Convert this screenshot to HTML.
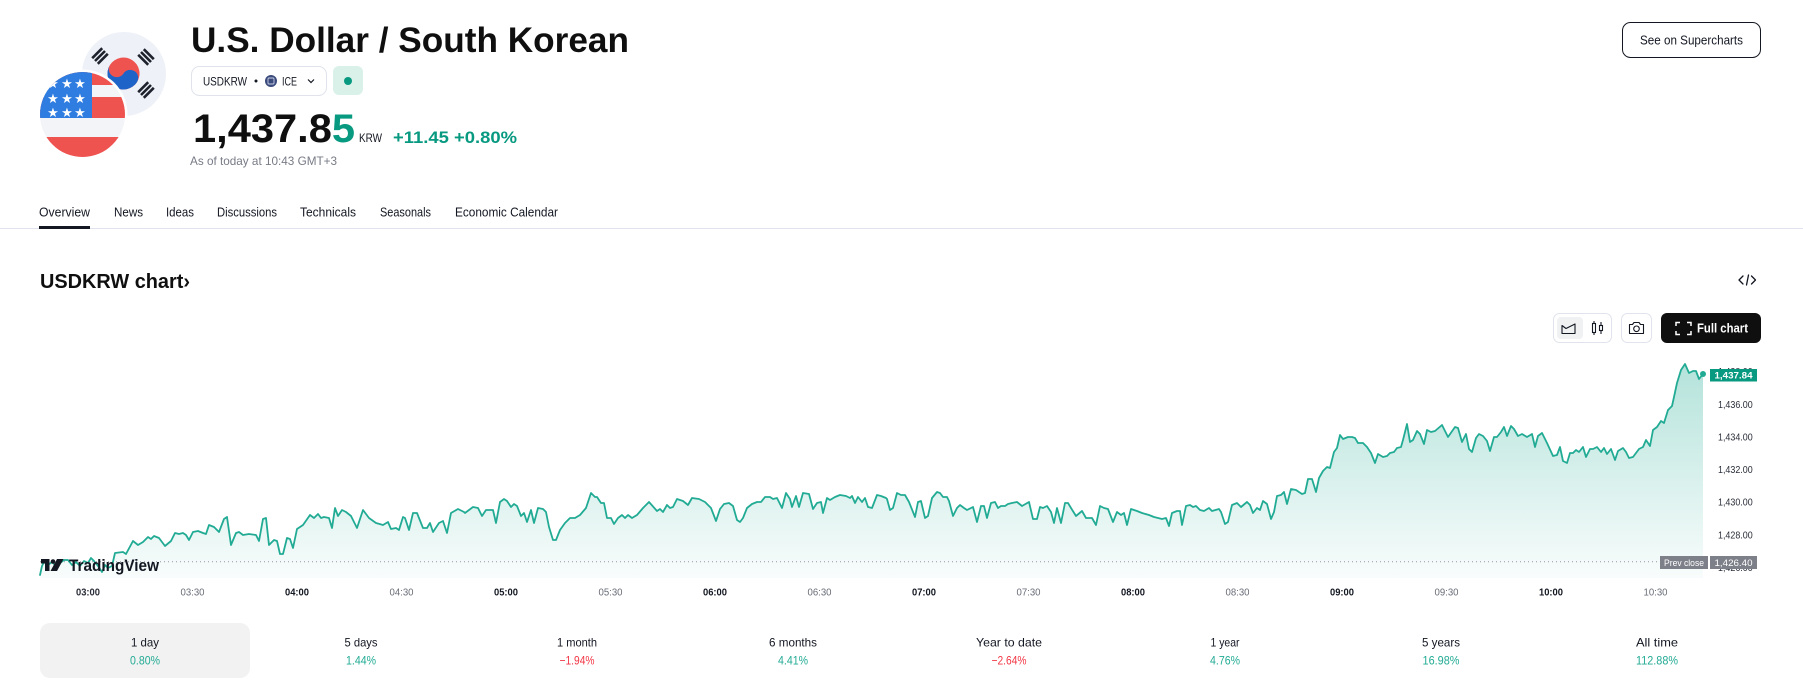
<!DOCTYPE html>
<html>
<head>
<meta charset="utf-8">
<style>
  html,body{margin:0;padding:0;background:#fff;}
  body{width:1803px;height:699px;overflow:hidden;}
  svg{display:block;}
  text{font-family:"Liberation Sans", Arial, sans-serif;}
</style>
</head>
<body>
<svg width="1803" height="699" viewBox="0 0 1803 699" xmlns="http://www.w3.org/2000/svg">
  <defs>
    <clipPath id="usclip"><circle cx="82.5" cy="114.5" r="42.5"/></clipPath>
    <clipPath id="krclip"><circle cx="124" cy="74" r="42"/></clipPath>
    <linearGradient id="areaGrad" gradientUnits="userSpaceOnUse" x1="0" y1="364" x2="0" y2="578">
      <stop offset="0" stop-color="#22ab94" stop-opacity="0.34"/>
      <stop offset="1" stop-color="#22ab94" stop-opacity="0.03"/>
    </linearGradient>
  </defs>
  <rect x="0" y="0" width="1803" height="699" fill="#ffffff"/>

  <!-- ===== Flags ===== -->
  <circle cx="124" cy="74" r="42" fill="#eef1f7"/>
  <g clip-path="url(#krclip)">
    <g transform="translate(123.5,73.5) rotate(33)">
      <circle cx="0" cy="0" r="16" fill="#ef5350"/>
      <path d="M-16 0 A16 16 0 0 0 16 0 A8 8 0 0 0 0 0 A8 8 0 0 1 -16 0Z" fill="#1e64c8"/>
    </g>
    <g stroke="#1e222d" stroke-width="2.6" stroke-linecap="butt">
      <line x1="107.8" y1="53.8" x2="97.8" y2="63.8"/>
      <line x1="105" y1="51" x2="95" y2="61"/>
      <line x1="102.2" y1="48.2" x2="92.2" y2="58.2"/>
      <line x1="138.2" y1="54.8" x2="148.2" y2="64.8"/>
      <line x1="141" y1="52" x2="151" y2="62"/>
      <line x1="143.8" y1="49.2" x2="153.8" y2="59.2"/>
      <line x1="148.2" y1="82.2" x2="138.2" y2="92.2"/>
      <line x1="151" y1="85" x2="141" y2="95"/>
      <line x1="153.8" y1="87.8" x2="143.8" y2="97.8"/>
    </g>
  </g>
  <circle cx="82.5" cy="114.5" r="45" fill="#ffffff"/>
  <g clip-path="url(#usclip)">
    <rect x="38" y="70" width="90" height="90" fill="#f2f4f8"/>
    <rect x="38" y="70" width="90" height="15" fill="#ef5350"/>
    <rect x="38" y="97" width="90" height="21" fill="#ef5350"/>
    <rect x="38" y="137" width="90" height="23" fill="#ef5350"/>
    <rect x="38" y="70" width="54" height="48" fill="#2f7de1"/>
    <g fill="#ffffff" font-size="13" text-anchor="middle">
      <text x="53" y="88">★</text><text x="67" y="88">★</text><text x="80" y="88">★</text>
      <text x="53" y="103">★</text><text x="67" y="103">★</text><text x="80" y="103">★</text>
      <text x="53" y="117">★</text><text x="67" y="117">★</text><text x="80" y="117">★</text>
    </g>
  </g>

  <!-- ===== Header ===== -->
  <text x="191" y="52" font-size="35" font-weight="700" fill="#0f0f0f" textLength="438" lengthAdjust="spacingAndGlyphs">U.S. Dollar / South Korean</text>

  <rect x="191.5" y="66.5" width="135" height="29" rx="8" fill="#fff" stroke="#e0e3eb"/>
  <text x="203" y="85.3" font-size="12" fill="#131722" textLength="44" lengthAdjust="spacingAndGlyphs">USDKRW</text>
  <circle cx="256" cy="81" r="1.5" fill="#131722"/>
  <circle cx="271" cy="81" r="6" fill="#3a4a7a"/>
  <rect x="268" y="78" width="6" height="6" rx="1" fill="none" stroke="#c8d0e8" stroke-width="0.9"/>
  <text x="282" y="85.3" font-size="12" fill="#131722" textLength="15" lengthAdjust="spacingAndGlyphs">ICE</text>
  <polyline points="308,79.5 311,82.5 314,79.5" fill="none" stroke="#131722" stroke-width="1.2"/>

  <rect x="333" y="66" width="30" height="29" rx="6" fill="#daf1ea"/>
  <circle cx="348" cy="81" r="4" fill="#089981"/>

  <text x="193" y="142" font-size="40" font-weight="700" fill="#0f0f0f" textLength="162" lengthAdjust="spacingAndGlyphs">1,437.8<tspan fill="#089981">5</tspan></text>
  <text x="359" y="142" font-size="12" fill="#131722" textLength="23" lengthAdjust="spacingAndGlyphs">KRW</text>
  <text x="393" y="143" font-size="17" font-weight="700" fill="#089981" textLength="124" lengthAdjust="spacingAndGlyphs">+11.45 +0.80%</text>
  <text x="190" y="165" font-size="12" fill="#787b86" textLength="147" lengthAdjust="spacingAndGlyphs">As of today at 10:43 GMT+3</text>

  <!-- See on Supercharts -->
  <rect x="1622.5" y="22.5" width="138" height="35" rx="8" fill="#fff" stroke="#131722"/>
  <text x="1691.5" y="44.5" font-size="12.5" fill="#131722" text-anchor="middle" textLength="103" lengthAdjust="spacingAndGlyphs">See on Supercharts</text>

  <!-- ===== Tabs ===== -->
  <g font-size="12.5" fill="#131722">
    <text x="39" y="216.5" textLength="51" lengthAdjust="spacingAndGlyphs">Overview</text>
    <text x="114" y="216.5" textLength="29" lengthAdjust="spacingAndGlyphs">News</text>
    <text x="166" y="216.5" textLength="28" lengthAdjust="spacingAndGlyphs">Ideas</text>
    <text x="217" y="216.5" textLength="60" lengthAdjust="spacingAndGlyphs">Discussions</text>
    <text x="300" y="216.5" textLength="56" lengthAdjust="spacingAndGlyphs">Technicals</text>
    <text x="380" y="216.5" textLength="51" lengthAdjust="spacingAndGlyphs">Seasonals</text>
    <text x="455" y="216.5" textLength="103" lengthAdjust="spacingAndGlyphs">Economic Calendar</text>
  </g>
  <rect x="0" y="228" width="1803" height="1" fill="#e0e3eb"/>
  <rect x="39" y="226" width="51" height="3" fill="#131722"/>

  <!-- ===== Chart header ===== -->
  <text x="40" y="288" font-size="20" font-weight="700" fill="#0f0f0f" textLength="150" lengthAdjust="spacingAndGlyphs">USDKRW chart›</text>
  <g fill="none" stroke="#131722" stroke-width="1.3" stroke-linecap="round" stroke-linejoin="round">
    <polyline points="1743,276 1739,280 1743,284"/>
    <line x1="1746.5" y1="285" x2="1748.5" y2="275"/>
    <polyline points="1751.5,276 1755.5,280 1751.5,284"/>
  </g>

  <!-- chart type group -->
  <rect x="1553.5" y="313.5" width="58" height="29" rx="6" fill="#fff" stroke="#e0e3eb"/>
  <rect x="1557" y="317" width="26" height="22" rx="4" fill="#f0f1f3"/>
  <path d="M1562 333.5 V325.5 L1566 328.5 L1570 326.5 L1575 324 V333.5 Z" fill="none" stroke="#131722" stroke-width="1.1" stroke-linejoin="round"/>
  <g fill="none" stroke="#131722" stroke-width="1.1">
    <rect x="1592.5" y="323.5" width="3" height="9"/>
    <line x1="1594" y1="321" x2="1594" y2="323.5"/><line x1="1594" y1="332.5" x2="1594" y2="335"/>
    <rect x="1599.5" y="325.5" width="3" height="5"/>
    <line x1="1601" y1="322" x2="1601" y2="325.5"/><line x1="1601" y1="330.5" x2="1601" y2="334"/>
  </g>
  <!-- camera -->
  <rect x="1621.5" y="313.5" width="30" height="29" rx="6" fill="#fff" stroke="#e0e3eb"/>
  <path d="M1629.5 324.5 h3 l1.5 -2 h5 l1.5 2 h3 v9 h-14 z" fill="none" stroke="#131722" stroke-width="1.1" stroke-linejoin="round"/>
  <circle cx="1636.5" cy="328.8" r="2.8" fill="none" stroke="#131722" stroke-width="1.1"/>
  <!-- full chart -->
  <rect x="1661" y="313" width="100" height="30" rx="6" fill="#0f0f0f"/>
  <g fill="none" stroke="#fff" stroke-width="1.5">
    <polyline points="1676,326 1676,322.5 1680,322.5"/>
    <polyline points="1687,322.5 1691,322.5 1691,326"/>
    <polyline points="1676,331 1676,334.5 1680,334.5"/>
    <polyline points="1687,334.5 1691,334.5 1691,331"/>
  </g>
  <text x="1697" y="332.5" font-size="12.5" font-weight="700" fill="#fff" textLength="51" lengthAdjust="spacingAndGlyphs">Full chart</text>

  <!-- ===== Chart ===== -->
  <path id="area" fill="url(#areaGrad)" stroke="none" d="M40,575 L42,566 L44,562 L48,565 L52,562 L56,566 L60,563 L64,560 L68,560 L72,565 L76,562 L80,566 L84,561 L88,563 L91,558 L94,561 L98,566 L102,572 L105,565 L108,568 L112,566 L115,553 L123,552 L126,554 L133,541 L138,545 L143,542 L148,537 L151,539 L154,536 L159,538 L165,546 L171,541 L175,533 L179,534 L183,533 L186,535 L189,540 L193,532 L198,531 L203,533 L206,534 L209,525 L214,527 L219,532 L224,519 L227,517 L231,545 L236,533 L239,532 L243,535 L249,534 L256,535 L259,541 L263,519 L266,518 L269,545 L274,540 L277,541 L280,554 L283,554 L287,538 L290,539 L293,548 L297,529 L303,525 L310,515 L314,518 L318,514 L321,518 L324,517 L329,518 L332,528 L335,508 L338,516 L342,510 L346,512 L351,516 L357,528 L363,510 L369,518 L376,523 L383,525 L388,522 L391,529 L396,528 L399,530 L403,517 L405,518 L409,530 L413,513 L417,513 L423,528 L427,528 L430,523 L433,532 L439,523 L443,521 L447,533 L451,513 L458,509 L464,512 L465,513 L473,507 L478,508 L482,516 L486,510 L493,510 L496,523 L500,502 L504,499 L507,501 L511,507 L514,504 L517,506 L521,516 L524,513 L527,522 L531,510 L534,523 L538,508 L543,509 L546,512 L549,527 L553,540 L556,540 L560,530 L565,523 L570,518 L575,518 L580,515 L586,508 L591,493 L595,497 L597,497 L601,503 L604,503 L607,518 L611,518 L614,524 L618,518 L622,515 L625,518 L628,515 L632,518 L637,515 L643,508 L649,502 L657,511 L660,509 L663,512 L667,505 L670,508 L673,507 L677,499 L683,501 L688,505 L692,498 L699,499 L705,502 L711,508 L716,521 L720,509 L724,504 L729,503 L733,506 L737,520 L740,522 L743,518 L747,508 L752,504 L757,502 L761,502 L765,497 L770,497 L773,499 L777,498 L782,508 L786,493 L790,499 L792,507 L796,496 L799,507 L803,493 L809,494 L813,509 L817,503 L821,502 L823,513 L827,498 L830,500 L835,497 L840,495 L846,496 L850,498 L852,496 L855,503 L858,497 L862,502 L865,498 L868,507 L872,508 L877,495 L881,496 L886,498 L887,499 L890,510 L893,508 L897,493 L901,495 L905,495 L909,502 L915,517 L918,502 L921,501 L925,518 L928,516 L932,498 L937,492 L940,493 L943,497 L947,497 L949,501 L953,516 L957,508 L960,505 L964,508 L967,510 L973,507 L977,522 L981,506 L984,506 L987,518 L991,503 L995,502 L998,508 L1001,506 L1005,506 L1008,504 L1012,503 L1017,502 L1022,506 L1029,502 L1033,519 L1037,519 L1040,507 L1043,508 L1047,506 L1051,512 L1054,523 L1057,508 L1061,523 L1065,503 L1068,503 L1071,508 L1076,516 L1082,511 L1086,518 L1092,518 L1096,525 L1100,506 L1104,508 L1108,509 L1113,522 L1117,512 L1121,515 L1124,513 L1127,525 L1131,509 L1137,511 L1142,513 L1149,515 L1154,517 L1162,519 L1166,518 L1169,526 L1172,513 L1177,511 L1180,511 L1182,525 L1186,506 L1190,505 L1193,507 L1196,506 L1200,510 L1204,511 L1209,508 L1212,511 L1219,509 L1221,512 L1225,524 L1228,522 L1232,505 L1237,503 L1241,507 L1247,502 L1250,505 L1253,513 L1257,508 L1260,510 L1263,501 L1267,504 L1271,519 L1274,512 L1277,496 L1281,495 L1284,492 L1287,504 L1291,489 L1296,490 L1302,494 L1305,493 L1308,479 L1312,479 L1316,492 L1319,478 L1323,471 L1327,467 L1330,468 L1334,452 L1337,448 L1340,435 L1343,439 L1348,437 L1352,437 L1355,438 L1358,443 L1363,443 L1367,447 L1371,453 L1375,463 L1378,454 L1383,457 L1387,456 L1390,453 L1394,452 L1397,448 L1401,447 L1403,440 L1407,424 L1410,442 L1413,440 L1417,431 L1420,434 L1424,444 L1427,430 L1431,432 L1435,431 L1442,425 L1448,437 L1455,427 L1458,428 L1462,442 L1466,434 L1469,449 L1472,452 L1476,438 L1479,434 L1483,436 L1487,441 L1490,451 L1494,437 L1497,437 L1501,432 L1504,427 L1507,436 L1511,426 L1514,429 L1518,436 L1522,434 L1527,437 L1532,434 L1535,447 L1538,436 L1542,433 L1547,443 L1553,456 L1557,455 L1560,447 L1563,461 L1567,463 L1570,453 L1573,453 L1576,450 L1579,452 L1583,447 L1586,457 L1590,449 L1593,449 L1597,447 L1601,452 L1604,448 L1607,454 L1611,449 L1615,460 L1618,451 L1623,448 L1626,452 L1629,458 L1633,457 L1639,449 L1643,447 L1646,440 L1650,446 L1653,430 L1657,427 L1661,421 L1664,423 L1668,410 L1672,406 L1674,397 L1677,383 L1681,370 L1685,364 L1689,373 L1693,371 L1696,371 L1699,379 L1703,374 L1703,578 L40,578 Z"/>

  <!-- prev close dotted line -->
  <line x1="40" y1="561.7" x2="1660" y2="561.7" stroke="#9598a1" stroke-width="1" stroke-dasharray="1,3"/>

  <path fill="none" stroke="#22ab94" stroke-width="1.8" stroke-linejoin="round" stroke-linecap="round" d="M40,575 L42,566 L44,562 L48,565 L52,562 L56,566 L60,563 L64,560 L68,560 L72,565 L76,562 L80,566 L84,561 L88,563 L91,558 L94,561 L98,566 L102,572 L105,565 L108,568 L112,566 L115,553 L123,552 L126,554 L133,541 L138,545 L143,542 L148,537 L151,539 L154,536 L159,538 L165,546 L171,541 L175,533 L179,534 L183,533 L186,535 L189,540 L193,532 L198,531 L203,533 L206,534 L209,525 L214,527 L219,532 L224,519 L227,517 L231,545 L236,533 L239,532 L243,535 L249,534 L256,535 L259,541 L263,519 L266,518 L269,545 L274,540 L277,541 L280,554 L283,554 L287,538 L290,539 L293,548 L297,529 L303,525 L310,515 L314,518 L318,514 L321,518 L324,517 L329,518 L332,528 L335,508 L338,516 L342,510 L346,512 L351,516 L357,528 L363,510 L369,518 L376,523 L383,525 L388,522 L391,529 L396,528 L399,530 L403,517 L405,518 L409,530 L413,513 L417,513 L423,528 L427,528 L430,523 L433,532 L439,523 L443,521 L447,533 L451,513 L458,509 L464,512 L465,513 L473,507 L478,508 L482,516 L486,510 L493,510 L496,523 L500,502 L504,499 L507,501 L511,507 L514,504 L517,506 L521,516 L524,513 L527,522 L531,510 L534,523 L538,508 L543,509 L546,512 L549,527 L553,540 L556,540 L560,530 L565,523 L570,518 L575,518 L580,515 L586,508 L591,493 L595,497 L597,497 L601,503 L604,503 L607,518 L611,518 L614,524 L618,518 L622,515 L625,518 L628,515 L632,518 L637,515 L643,508 L649,502 L657,511 L660,509 L663,512 L667,505 L670,508 L673,507 L677,499 L683,501 L688,505 L692,498 L699,499 L705,502 L711,508 L716,521 L720,509 L724,504 L729,503 L733,506 L737,520 L740,522 L743,518 L747,508 L752,504 L757,502 L761,502 L765,497 L770,497 L773,499 L777,498 L782,508 L786,493 L790,499 L792,507 L796,496 L799,507 L803,493 L809,494 L813,509 L817,503 L821,502 L823,513 L827,498 L830,500 L835,497 L840,495 L846,496 L850,498 L852,496 L855,503 L858,497 L862,502 L865,498 L868,507 L872,508 L877,495 L881,496 L886,498 L887,499 L890,510 L893,508 L897,493 L901,495 L905,495 L909,502 L915,517 L918,502 L921,501 L925,518 L928,516 L932,498 L937,492 L940,493 L943,497 L947,497 L949,501 L953,516 L957,508 L960,505 L964,508 L967,510 L973,507 L977,522 L981,506 L984,506 L987,518 L991,503 L995,502 L998,508 L1001,506 L1005,506 L1008,504 L1012,503 L1017,502 L1022,506 L1029,502 L1033,519 L1037,519 L1040,507 L1043,508 L1047,506 L1051,512 L1054,523 L1057,508 L1061,523 L1065,503 L1068,503 L1071,508 L1076,516 L1082,511 L1086,518 L1092,518 L1096,525 L1100,506 L1104,508 L1108,509 L1113,522 L1117,512 L1121,515 L1124,513 L1127,525 L1131,509 L1137,511 L1142,513 L1149,515 L1154,517 L1162,519 L1166,518 L1169,526 L1172,513 L1177,511 L1180,511 L1182,525 L1186,506 L1190,505 L1193,507 L1196,506 L1200,510 L1204,511 L1209,508 L1212,511 L1219,509 L1221,512 L1225,524 L1228,522 L1232,505 L1237,503 L1241,507 L1247,502 L1250,505 L1253,513 L1257,508 L1260,510 L1263,501 L1267,504 L1271,519 L1274,512 L1277,496 L1281,495 L1284,492 L1287,504 L1291,489 L1296,490 L1302,494 L1305,493 L1308,479 L1312,479 L1316,492 L1319,478 L1323,471 L1327,467 L1330,468 L1334,452 L1337,448 L1340,435 L1343,439 L1348,437 L1352,437 L1355,438 L1358,443 L1363,443 L1367,447 L1371,453 L1375,463 L1378,454 L1383,457 L1387,456 L1390,453 L1394,452 L1397,448 L1401,447 L1403,440 L1407,424 L1410,442 L1413,440 L1417,431 L1420,434 L1424,444 L1427,430 L1431,432 L1435,431 L1442,425 L1448,437 L1455,427 L1458,428 L1462,442 L1466,434 L1469,449 L1472,452 L1476,438 L1479,434 L1483,436 L1487,441 L1490,451 L1494,437 L1497,437 L1501,432 L1504,427 L1507,436 L1511,426 L1514,429 L1518,436 L1522,434 L1527,437 L1532,434 L1535,447 L1538,436 L1542,433 L1547,443 L1553,456 L1557,455 L1560,447 L1563,461 L1567,463 L1570,453 L1573,453 L1576,450 L1579,452 L1583,447 L1586,457 L1590,449 L1593,449 L1597,447 L1601,452 L1604,448 L1607,454 L1611,449 L1615,460 L1618,451 L1623,448 L1626,452 L1629,458 L1633,457 L1639,449 L1643,447 L1646,440 L1650,446 L1653,430 L1657,427 L1661,421 L1664,423 L1668,410 L1672,406 L1674,397 L1677,383 L1681,370 L1685,364 L1689,373 L1693,371 L1696,371 L1699,379 L1703,374"/>
  <circle cx="1703" cy="374" r="3" fill="#22ab94"/>

  <!-- TradingView logo -->
  <g fill="#131722">
    <path d="M41 559 H49.5 V571 H45 V563.5 H41 Z"/>
    <circle cx="53" cy="561.5" r="2.3"/>
    <path d="M57 559 H63.5 L57 571 H50.5 Z"/>
    <text x="69" y="571" font-size="17" font-weight="700" textLength="90" lengthAdjust="spacingAndGlyphs">TradingView</text>
  </g>

  <!-- Price axis -->
  <g font-size="10" fill="#2a2e39">
    <text x="1718" y="375.2" textLength="34.7" lengthAdjust="spacingAndGlyphs">1,438.00</text>
    <text x="1718" y="407.8" textLength="34.7" lengthAdjust="spacingAndGlyphs">1,436.00</text>
    <text x="1718" y="440.5" textLength="34.7" lengthAdjust="spacingAndGlyphs">1,434.00</text>
    <text x="1718" y="473.1" textLength="34.7" lengthAdjust="spacingAndGlyphs">1,432.00</text>
    <text x="1718" y="505.7" textLength="34.7" lengthAdjust="spacingAndGlyphs">1,430.00</text>
    <text x="1718" y="538.3" textLength="34.7" lengthAdjust="spacingAndGlyphs">1,428.00</text>
    <text x="1718" y="570.9" textLength="34.7" lengthAdjust="spacingAndGlyphs">1,426.00</text>
  </g>
  <rect x="1710" y="369" width="47" height="12.5" fill="#089981"/>
  <text x="1733.5" y="378.6" font-size="9.5" font-weight="700" fill="#fff" text-anchor="middle" textLength="38" lengthAdjust="spacingAndGlyphs">1,437.84</text>
  <rect x="1660" y="556" width="48" height="13" fill="#7d8089"/>
  <text x="1684" y="565.8" font-size="9.5" fill="#fff" text-anchor="middle" textLength="40" lengthAdjust="spacingAndGlyphs">Prev close</text>
  <rect x="1710" y="556" width="47" height="13" fill="#7d8089"/>
  <text x="1733.5" y="565.8" font-size="9.5" fill="#fff" text-anchor="middle" textLength="38" lengthAdjust="spacingAndGlyphs">1,426.40</text>

  <!-- Time axis -->
  <g font-size="10" text-anchor="middle">
    <text x="88" y="595.5" fill="#2a2e39" font-weight="700" textLength="24" lengthAdjust="spacingAndGlyphs">03:00</text>
    <text x="192.5" y="595.5" fill="#6a6d78" textLength="24" lengthAdjust="spacingAndGlyphs">03:30</text>
    <text x="297" y="595.5" fill="#131722" font-weight="700" textLength="24" lengthAdjust="spacingAndGlyphs">04:00</text>
    <text x="401.5" y="595.5" fill="#6a6d78" textLength="24" lengthAdjust="spacingAndGlyphs">04:30</text>
    <text x="506" y="595.5" fill="#131722" font-weight="700" textLength="24" lengthAdjust="spacingAndGlyphs">05:00</text>
    <text x="610.5" y="595.5" fill="#6a6d78" textLength="24" lengthAdjust="spacingAndGlyphs">05:30</text>
    <text x="715" y="595.5" fill="#131722" font-weight="700" textLength="24" lengthAdjust="spacingAndGlyphs">06:00</text>
    <text x="819.5" y="595.5" fill="#6a6d78" textLength="24" lengthAdjust="spacingAndGlyphs">06:30</text>
    <text x="924" y="595.5" fill="#131722" font-weight="700" textLength="24" lengthAdjust="spacingAndGlyphs">07:00</text>
    <text x="1028.5" y="595.5" fill="#6a6d78" textLength="24" lengthAdjust="spacingAndGlyphs">07:30</text>
    <text x="1133" y="595.5" fill="#131722" font-weight="700" textLength="24" lengthAdjust="spacingAndGlyphs">08:00</text>
    <text x="1237.5" y="595.5" fill="#6a6d78" textLength="24" lengthAdjust="spacingAndGlyphs">08:30</text>
    <text x="1342" y="595.5" fill="#131722" font-weight="700" textLength="24" lengthAdjust="spacingAndGlyphs">09:00</text>
    <text x="1446.5" y="595.5" fill="#6a6d78" textLength="24" lengthAdjust="spacingAndGlyphs">09:30</text>
    <text x="1551" y="595.5" fill="#131722" font-weight="700" textLength="24" lengthAdjust="spacingAndGlyphs">10:00</text>
    <text x="1655.5" y="595.5" fill="#6a6d78" textLength="24" lengthAdjust="spacingAndGlyphs">10:30</text>
  </g>

  <!-- ===== Period performance row ===== -->
  <rect x="40" y="623" width="210" height="55" rx="10" fill="#f2f2f2"/>
  <g font-size="12" text-anchor="middle">
    <text x="145" y="646.5" fill="#131722" textLength="28" lengthAdjust="spacingAndGlyphs">1 day</text>
    <text x="145" y="664.5" fill="#22ab94" textLength="30" lengthAdjust="spacingAndGlyphs">0.80%</text>

    <text x="361" y="646.5" fill="#131722" textLength="33" lengthAdjust="spacingAndGlyphs">5 days</text>
    <text x="361" y="664.5" fill="#22ab94" textLength="30" lengthAdjust="spacingAndGlyphs">1.44%</text>

    <text x="577" y="646.5" fill="#131722" textLength="40" lengthAdjust="spacingAndGlyphs">1 month</text>
    <text x="577" y="664.5" fill="#f23645" textLength="35" lengthAdjust="spacingAndGlyphs">−1.94%</text>

    <text x="793" y="646.5" fill="#131722" textLength="48" lengthAdjust="spacingAndGlyphs">6 months</text>
    <text x="793" y="664.5" fill="#22ab94" textLength="30" lengthAdjust="spacingAndGlyphs">4.41%</text>

    <text x="1009" y="646.5" fill="#131722" textLength="66" lengthAdjust="spacingAndGlyphs">Year to date</text>
    <text x="1009" y="664.5" fill="#f23645" textLength="35" lengthAdjust="spacingAndGlyphs">−2.64%</text>

    <text x="1225" y="646.5" fill="#131722" textLength="29" lengthAdjust="spacingAndGlyphs">1 year</text>
    <text x="1225" y="664.5" fill="#22ab94" textLength="30" lengthAdjust="spacingAndGlyphs">4.76%</text>

    <text x="1441" y="646.5" fill="#131722" textLength="38" lengthAdjust="spacingAndGlyphs">5 years</text>
    <text x="1441" y="664.5" fill="#22ab94" textLength="37" lengthAdjust="spacingAndGlyphs">16.98%</text>

    <text x="1657" y="646.5" fill="#131722" textLength="42" lengthAdjust="spacingAndGlyphs">All time</text>
    <text x="1657" y="664.5" fill="#22ab94" textLength="42" lengthAdjust="spacingAndGlyphs">112.88%</text>
  </g>
</svg>
</body>
</html>
